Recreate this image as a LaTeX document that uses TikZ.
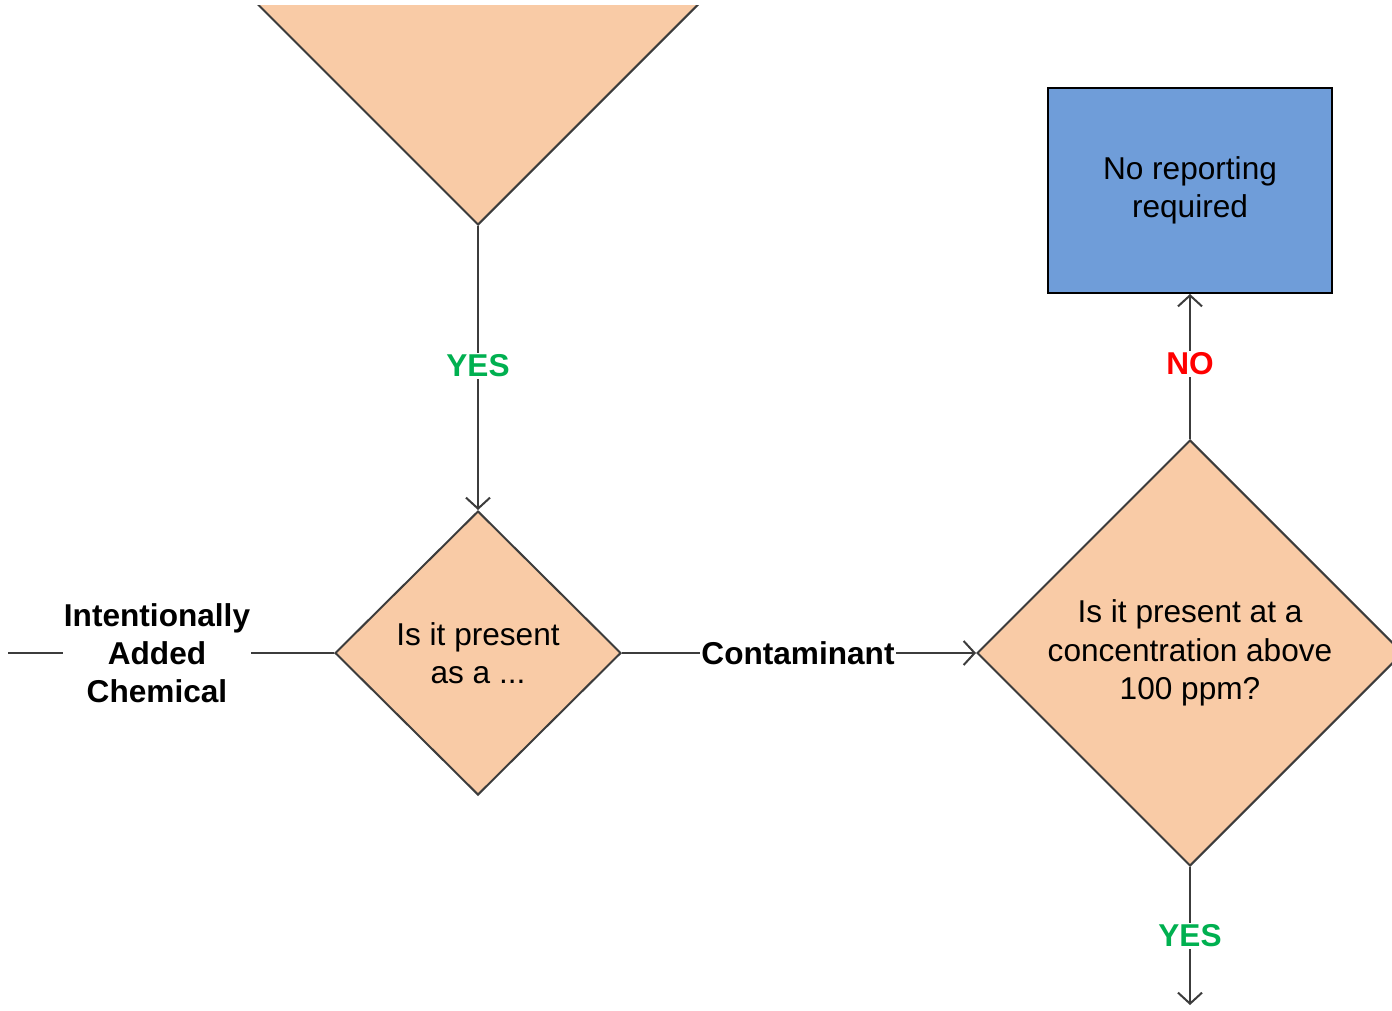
\documentclass[tikz,border=0pt]{standalone}
\usepackage{fontspec}
\setmainfont{Liberation Sans}
\usetikzlibrary{shapes.geometric,arrows.meta}
\definecolor{peach}{RGB}{249,203,166}
\definecolor{boxblue}{RGB}{111,157,217}
\definecolor{yesgreen}{RGB}{0,176,80}
\definecolor{nored}{RGB}{255,0,0}
\definecolor{edgegray}{RGB}{60,60,60}
\begin{document}
\begin{tikzpicture}[x=1pt,y=-1pt,
  txt/.style={font=\fontsize{31.6}{38.5}\selectfont, align=center},
  dia/.style={diamond, draw=edgegray, fill=peach, line width=2pt, inner sep=0pt, aspect=1, txt},
  conn/.style={draw=edgegray, line width=2pt, -{Straight Barb[length=11pt,width=24pt]}},
  plainline/.style={draw=edgegray, line width=2pt},
  lbl/.style={font=\fontsize{31.6}{38.5}\selectfont\bfseries, fill=white, inner sep=2pt, align=center}]
\useasboundingbox (0,0) rectangle (1392,1010);
\begin{scope}
  \clip (0,5) rectangle (1392,1010);
  \node[dia, minimum width=440, minimum height=440] (q0) at (478,5) {};
\end{scope}
\node[dia, minimum width=286, minimum height=284] (d1) at (478,653) {Is it present\\as a ...};
\node[dia, minimum width=426, minimum height=426] (d2) at (1190,653) {Is it present at a\\concentration above\\100 ppm?};
\node[draw=black, fill=boxblue, line width=2pt, minimum width=284, minimum height=205, inner sep=0pt, txt] (box) at (1190,190.5) {No reporting\\required};
\coordinate (start) at (8,653);
\coordinate (endpt) at (1190,1005);
\draw[conn] (q0.south) -- (d1.north);
\draw[conn] (d1.east) -- (d2.west);
\draw[conn] (d2.north) -- (box.south);
\draw[conn] (d2.south) -- (endpt);
\draw[plainline] (start) -- (d1.west);
\node[lbl, text=yesgreen] (yes1) at (478,366) {YES};
\node[lbl, text=nored] (no1) at (1190,364) {NO};
\node[lbl, text=yesgreen] (yes2) at (1190,936) {YES};
\node[lbl, inner sep=1pt] (cont) at (798,653) {Contaminant};
\node[lbl, inner sep=1pt, font=\fontsize{31.6}{38}\selectfont\bfseries] (iac) at (157,653) {Intentionally\\Added\\Chemical};
\end{tikzpicture}
\end{document}
